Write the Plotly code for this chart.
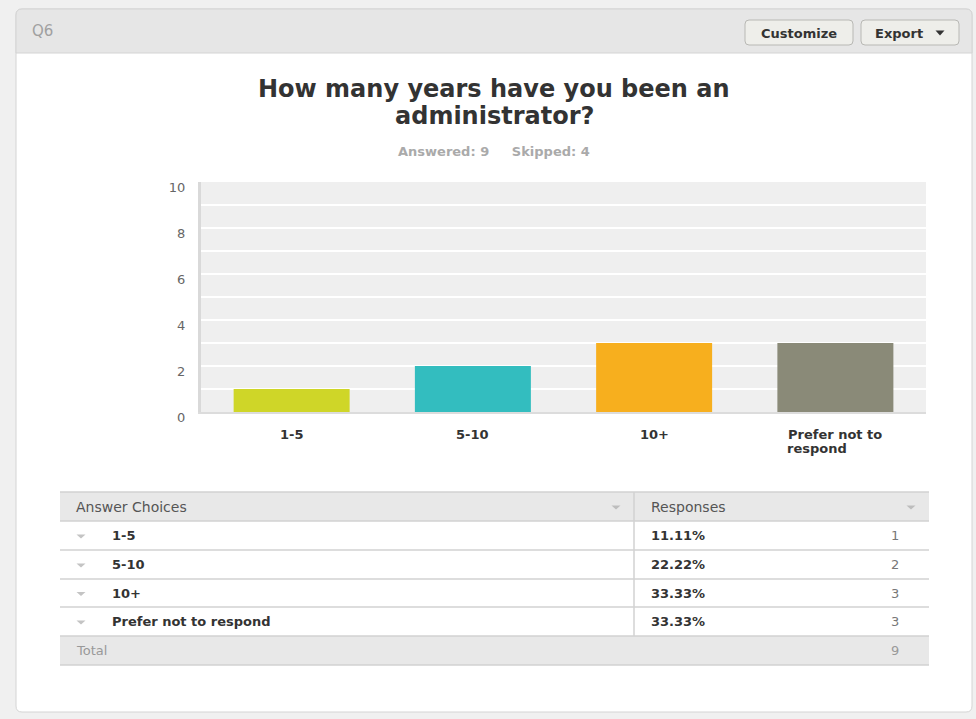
import plotly.graph_objects as go

# ---- data ----
question_lines = ["How many years have you been an", "administrator?"]
answered = 9
skipped = 4
choices = ["1-5", "5-10", "10+", "Prefer not to respond"]
axis_label_lines = [["1-5"], ["5-10"], ["10+"], ["Prefer not to", "respond"]]
counts = [1, 2, 3, 3]
bar_colors = ["#cfd628", "#33bdbf", "#f7af1e", "#8a8a78"]
y_ticks = [0, 2, 4, 6, 8, 10]

W, H = 976, 719
FONT = "DejaVu Sans, Verdana, sans-serif"


def X(px):
    return px / W


def Y(py):
    return 1 - py / H


def rrect(x0, y0, x1, y1, r):
    """Rounded rectangle path in paper coordinates from pixel corners."""
    rx, ry = r / W, r / H
    a, b, c, d = X(x0), Y(y0), X(x1), Y(y1)
    return (f"M{a + rx},{b} L{c - rx},{b} Q{c},{b} {c},{b - ry} "
            f"L{c},{d + ry} Q{c},{d} {c - rx},{d} L{a + rx},{d} "
            f"Q{a},{d} {a},{d + ry} L{a},{b - ry} Q{a},{b} {a + rx},{b} Z")


def tri(cx, cy, w=8, h=4):
    return (f"M{X(cx - w / 2)},{Y(cy - h / 2)} L{X(cx + w / 2)},{Y(cy - h / 2)} "
            f"L{X(cx)},{Y(cy + h / 2)} Z")


def text(s, px, py, size, color, anchor="left", bold=False):
    return dict(text=f"<b>{s}</b>" if bold else s, x=X(px), y=Y(py),
                xref="paper", yref="paper", xanchor=anchor, yanchor="middle",
                showarrow=False, font=dict(family=FONT, size=size, color=color))


shapes = []
annotations = []

# panel
shapes.append(dict(type="path", path=rrect(16, 9, 972, 712, 6), xref="paper", yref="paper",
                   fillcolor="#ffffff", line=dict(color="#d4d4d4", width=1), layer="below"))
# header band
shapes.append(dict(type="path",
                   path=(f"M{X(22)},{Y(9)} L{X(966)},{Y(9)} Q{X(972)},{Y(9)} {X(972)},{Y(15)} "
                         f"L{X(972)},{Y(53)} L{X(16)},{Y(53)} L{X(16)},{Y(15)} Q{X(16)},{Y(9)} {X(22)},{Y(9)} Z"),
                   xref="paper", yref="paper", fillcolor="#e6e6e6",
                   line=dict(color="#d4d4d4", width=1), layer="below"))
annotations.append(text("Q6", 30, 31, 15, "#a0a0a0"))

# buttons
for (x0, x1) in [(745, 853), (861, 959)]:
    shapes.append(dict(type="path", path=rrect(x0, 20, x1, 45, 4), xref="paper", yref="paper",
                       fillcolor="#eeeeea", line=dict(color="#b8b8b4", width=1), layer="below"))
annotations.append(text("Customize", 799, 33, 13, "#333333", "center", True))
annotations.append(text("Export", 899, 33, 13, "#333333", "center", True))
shapes.append(dict(type="path", path=tri(940, 33, 9, 5), xref="paper", yref="paper",
                   fillcolor="#333333", line=dict(width=0)))

# plot area background
shapes.append(dict(type="rect", x0=0, x1=1, y0=0, y1=1, xref="x domain", yref="y domain",
                   fillcolor="#efefef", line=dict(width=0), layer="below"))

# title + subtitle
annotations.append(text(question_lines[0], 494, 89, 24, "#333333", "center", True))
annotations.append(text(question_lines[1], 494, 116, 24, "#333333", "center", True))
annotations.append(text(f"Answered: {answered}" + "&nbsp;" * 5 + f"Skipped: {skipped}",
                        494, 152, 13, "#aaaaaa", "center", True))

# category labels under bars (second lines left-aligned with the first)
for cat, lines in zip(choices, axis_label_lines):
    annotations.append(dict(text=f"<b>{lines[0]}</b>", x=cat, y=Y(434), xref="x", yref="paper",
                            xanchor="center", yanchor="middle", showarrow=False,
                            font=dict(family=FONT, size=13, color="#333333")))
    if len(lines) > 1:
        annotations.append(dict(text=f"<b>{lines[1]}</b>", x=cat, y=Y(448), xref="x", yref="paper",
                                xanchor="left", yanchor="middle", xshift=-50, showarrow=False,
                                font=dict(family=FONT, size=13, color="#333333")))

# ---- table ----
TX0, TX1, TCOL = 60, 929, 634
row_edges = [492, 521, 550, 579, 607, 636, 665]
shapes.append(dict(type="rect", x0=X(TX0), x1=X(TX1), y0=Y(row_edges[0]), y1=Y(row_edges[1]),
                   xref="paper", yref="paper", fillcolor="#e8e8e8", line=dict(width=0)))
shapes.append(dict(type="rect", x0=X(TX0), x1=X(TX1), y0=Y(row_edges[5]), y1=Y(row_edges[6]),
                   xref="paper", yref="paper", fillcolor="#e8e8e8", line=dict(width=0)))
for e in row_edges:
    shapes.append(dict(type="line", x0=X(TX0), x1=X(TX1), y0=Y(e), y1=Y(e),
                       xref="paper", yref="paper", line=dict(color="#d2d2d2", width=1.5)))
shapes.append(dict(type="line", x0=X(TCOL), x1=X(TCOL), y0=Y(row_edges[0]), y1=Y(row_edges[5]),
                   xref="paper", yref="paper", line=dict(color="#d2d2d2", width=1.5)))

hy = (row_edges[0] + row_edges[1]) / 2
annotations.append(text("Answer Choices", 74, hy, 14, "#555555"))
annotations.append(text("Responses", 649, hy, 14, "#555555"))
shapes.append(dict(type="path", path=tri(616, hy + 1, 9, 4), xref="paper", yref="paper",
                   fillcolor="#bdbdbd", line=dict(width=0)))
shapes.append(dict(type="path", path=tri(911, hy + 1, 9, 4), xref="paper", yref="paper",
                   fillcolor="#bdbdbd", line=dict(width=0)))

total = sum(counts)
for i, (cat, n) in enumerate(zip(choices, counts)):
    cy = (row_edges[i + 1] + row_edges[i + 2]) / 2
    shapes.append(dict(type="path", path=tri(81, cy + 1, 9, 4), xref="paper", yref="paper",
                       fillcolor="#c4c4c4", line=dict(width=0)))
    annotations.append(text(cat, 110, cy, 13, "#333333", bold=True))
    annotations.append(text(f"{100 * n / total:.2f}%", 649, cy, 13, "#333333", bold=True))
    annotations.append(text(str(n), 895, cy, 13, "#777777", "center"))

ty = (row_edges[5] + row_edges[6]) / 2
annotations.append(text("Total", 74, ty, 13, "#999999"))
annotations.append(text(str(total), 895, ty, 13, "#999999", "center"))

# ---- bar chart ----
fig = go.Figure(go.Bar(x=choices, y=counts, marker=dict(color=bar_colors, line=dict(width=0)),
                       hoverinfo="x+y"))

fig.update_layout(
    width=W, height=H,
    margin=dict(l=0, r=0, t=0, b=0, pad=0, autoexpand=False),
    paper_bgcolor="#f0f0f0",
    plot_bgcolor="rgba(0,0,0,0)",
    showlegend=False,
    bargap=0.36,
    shapes=shapes,
    annotations=annotations,
    font=dict(family=FONT),
    xaxis=dict(domain=[X(201), X(926)], showticklabels=False, ticks="", showgrid=False,
               showline=True, linecolor="#dcdcdc", linewidth=2, fixedrange=True,
               automargin=False, categoryorder="array", categoryarray=choices),
    yaxis=dict(domain=[Y(412), Y(182)], range=[0, 10], tickvals=y_ticks,
               showgrid=True, gridcolor="#ffffff", gridwidth=2,
               minor=dict(dtick=1, tick0=0, showgrid=True, gridcolor="#ffffff", gridwidth=2),
               zeroline=False, showline=True, linecolor="#d9d9d9", linewidth=3,
               ticks="", ticklabelstandoff=10, ticklabelshift=5, automargin=False,
               tickfont=dict(family=FONT, size=13, color="#666666"), fixedrange=True),
)

fig.write_html("out.html", config={"displayModeBar": False})
